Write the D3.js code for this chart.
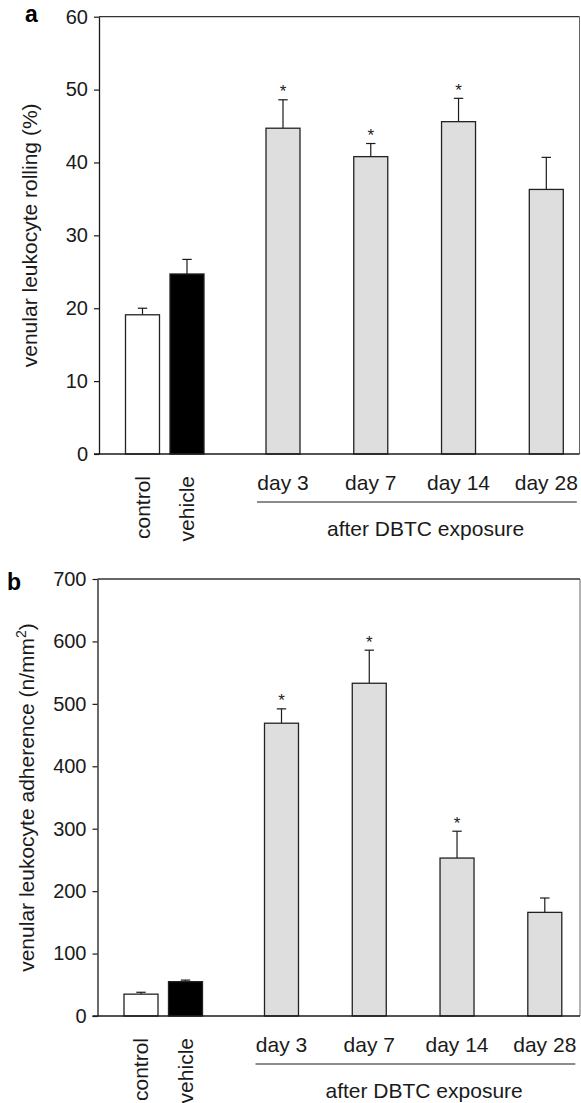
<!DOCTYPE html>
<html>
<head>
<meta charset="utf-8">
<script src="https://cdn.jsdelivr.net/npm/d3@7"></script>
<style>
  html, body { margin: 0; padding: 0; background: #fff; }
  svg { display: block; font-family: "Liberation Sans", Arial, Helvetica, sans-serif; }
</style>
</head>
<body>
<svg id="chart" width="581" height="1103"></svg>
<script>
// ---------- data ----------
const controlGroups = ["control", "vehicle"];
const dayGroups = ["day 3", "day 7", "day 14", "day 28"];
const groupFill = ["#ffffff", "#000000", "#dedede", "#dedede", "#dedede", "#dedede"];

const rollingMeans  = [19.1, 24.7, 44.7, 40.8, 45.6, 36.3];
const rollingErrors = [0.9, 2.0, 3.9, 1.8, 3.2, 4.4];
const rollingSignif = [false, false, true, true, true, false];
const rollingTicks  = [0, 10, 20, 30, 40, 50, 60];

const adherenceMeans  = [35, 55, 469, 533, 253, 166];
const adherenceErrors = [3, 2.5, 23, 53, 43, 23];
const adherenceSignif = [false, false, true, true, true, false];
const adherenceTicks  = [0, 100, 200, 300, 400, 500, 600, 700];

const groupCaption = "after DBTC exposure";

// ---------- drawing ----------
const svg = d3.select("#chart");
const INK = "#1a1a1a";

function drawPanel(opt) {
  const g = svg.append("g");
  const y = d3.scaleLinear().domain([0, opt.max]).range([opt.yZero, opt.yTop]);
  const xc = d3.scalePoint().domain(controlGroups).range([opt.x0 + 43.5, opt.x0 + 88]);
  const xd = d3.scalePoint().domain(dayGroups).range([opt.x0 + 184, opt.x0 + 447.3]);
  const cats = controlGroups.concat(dayGroups);
  const cx = c => controlGroups.includes(c) ? xc(c) : xd(c);
  const bw = 34;

  const rows = cats.map((c, i) => ({ c, m: opt.means[i], e: opt.errors[i], s: opt.signif[i], f: groupFill[i] }));

  // frame: top and right
  g.append("line").attr("x1", opt.x0).attr("x2", opt.xRight).attr("y1", opt.yTop).attr("y2", opt.yTop)
    .attr("stroke", "#333").attr("stroke-width", 1.3);
  g.append("line").attr("x1", opt.xRight).attr("x2", opt.xRight).attr("y1", opt.yTop).attr("y2", opt.yZero)
    .attr("stroke", "#666").attr("stroke-width", 1);

  // error bars
  const eb = g.append("g").attr("stroke", INK).attr("stroke-width", 1.2);
  rows.forEach(r => {
    eb.append("line").attr("x1", cx(r.c)).attr("x2", cx(r.c)).attr("y1", y(r.m)).attr("y2", y(r.m + r.e));
    eb.append("line").attr("x1", cx(r.c) - 4.7).attr("x2", cx(r.c) + 4.7).attr("y1", y(r.m + r.e)).attr("y2", y(r.m + r.e));
  });

  // bars
  g.append("g").selectAll("rect").data(rows).join("rect")
    .attr("x", d => cx(d.c) - bw / 2)
    .attr("width", bw)
    .attr("y", d => y(d.m))
    .attr("height", d => y(0) - y(d.m))
    .attr("fill", d => d.f)
    .attr("stroke", "#222")
    .attr("stroke-width", 1.3);

  // significance stars
  g.append("g").selectAll("text").data(rows.filter(d => d.s)).join("text")
    .attr("x", d => cx(d.c))
    .attr("y", d => y(d.m + d.e) - 2.5)
    .attr("text-anchor", "middle")
    .attr("font-size", 17)
    .attr("fill", INK)
    .text("*");

  // y axis
  const ax = g.append("g").attr("transform", `translate(${opt.x0},0)`)
    .call(d3.axisLeft(y).tickValues(opt.ticks).tickSize(5).tickSizeOuter(0).tickPadding(6));
  ax.select(".domain").attr("stroke", INK).attr("stroke-width", 1.3);
  ax.selectAll(".tick line").attr("stroke", INK).attr("stroke-width", 1.2);
  ax.selectAll(".tick text").attr("font-size", 20).attr("fill", INK)
    .attr("font-family", "Liberation Sans, Arial, sans-serif");

  // bottom line
  g.append("line").attr("x1", opt.x0 - 5).attr("x2", opt.xRight).attr("y1", opt.yZero).attr("y2", opt.yZero)
    .attr("stroke", INK).attr("stroke-width", 1.4);

  // category labels
  controlGroups.forEach(c => {
    g.append("text")
      .attr("transform", `translate(${xc(c)},${opt.yZero + 22}) rotate(-90)`)
      .attr("text-anchor", "end").attr("dy", "0.35em")
      .attr("font-size", 21).attr("fill", INK).text(c);
  });
  dayGroups.forEach(c => {
    g.append("text").attr("x", xd(c)).attr("y", opt.yZero + 36)
      .attr("text-anchor", "middle").attr("font-size", 21).attr("fill", INK).text(c);
  });
  g.append("line")
    .attr("x1", xd(dayGroups[0]) - 26).attr("x2", xd(dayGroups[dayGroups.length - 1]) + 30.5)
    .attr("y1", opt.yZero + 48).attr("y2", opt.yZero + 48)
    .attr("stroke", INK).attr("stroke-width", 1.2);
  g.append("text").attr("x", xd(dayGroups[0]) + 44).attr("y", opt.yZero + 82)
    .attr("text-anchor", "start").attr("font-size", 21).attr("fill", INK).text(groupCaption);

  // axis title
  const t = g.append("text")
    .attr("transform", `translate(${opt.titleX},${(opt.yTop + opt.yZero) / 2}) rotate(-90)`)
    .attr("text-anchor", "middle").attr("font-size", 21).attr("fill", INK);
  opt.title(t);

  // panel letter
  g.append("text").attr("x", opt.letterX).attr("y", opt.letterY)
    .attr("font-size", 23).attr("font-weight", "bold").attr("fill", "#000").text(opt.letter);
}

drawPanel({
  x0: 99, xRight: 579.5, yTop: 16.7, yZero: 454, max: 60,
  ticks: rollingTicks, means: rollingMeans, errors: rollingErrors, signif: rollingSignif,
  titleX: 37, letter: "a", letterX: 25, letterY: 21.7,
  title: t => t.text("venular leukocyte rolling (%)")
});

drawPanel({
  x0: 97.5, xRight: 580, yTop: 579, yZero: 1016, max: 700,
  ticks: adherenceTicks, means: adherenceMeans, errors: adherenceErrors, signif: adherenceSignif,
  titleX: 34, letter: "b", letterX: 7, letterY: 590,
  title: t => {
    t.append("tspan").text("venular leukocyte adherence (n/mm");
    t.append("tspan").attr("font-size", 14).attr("dy", "-8").text("2");
    t.append("tspan").attr("dy", "8").text(")");
  }
});
</script>
</body>
</html>
